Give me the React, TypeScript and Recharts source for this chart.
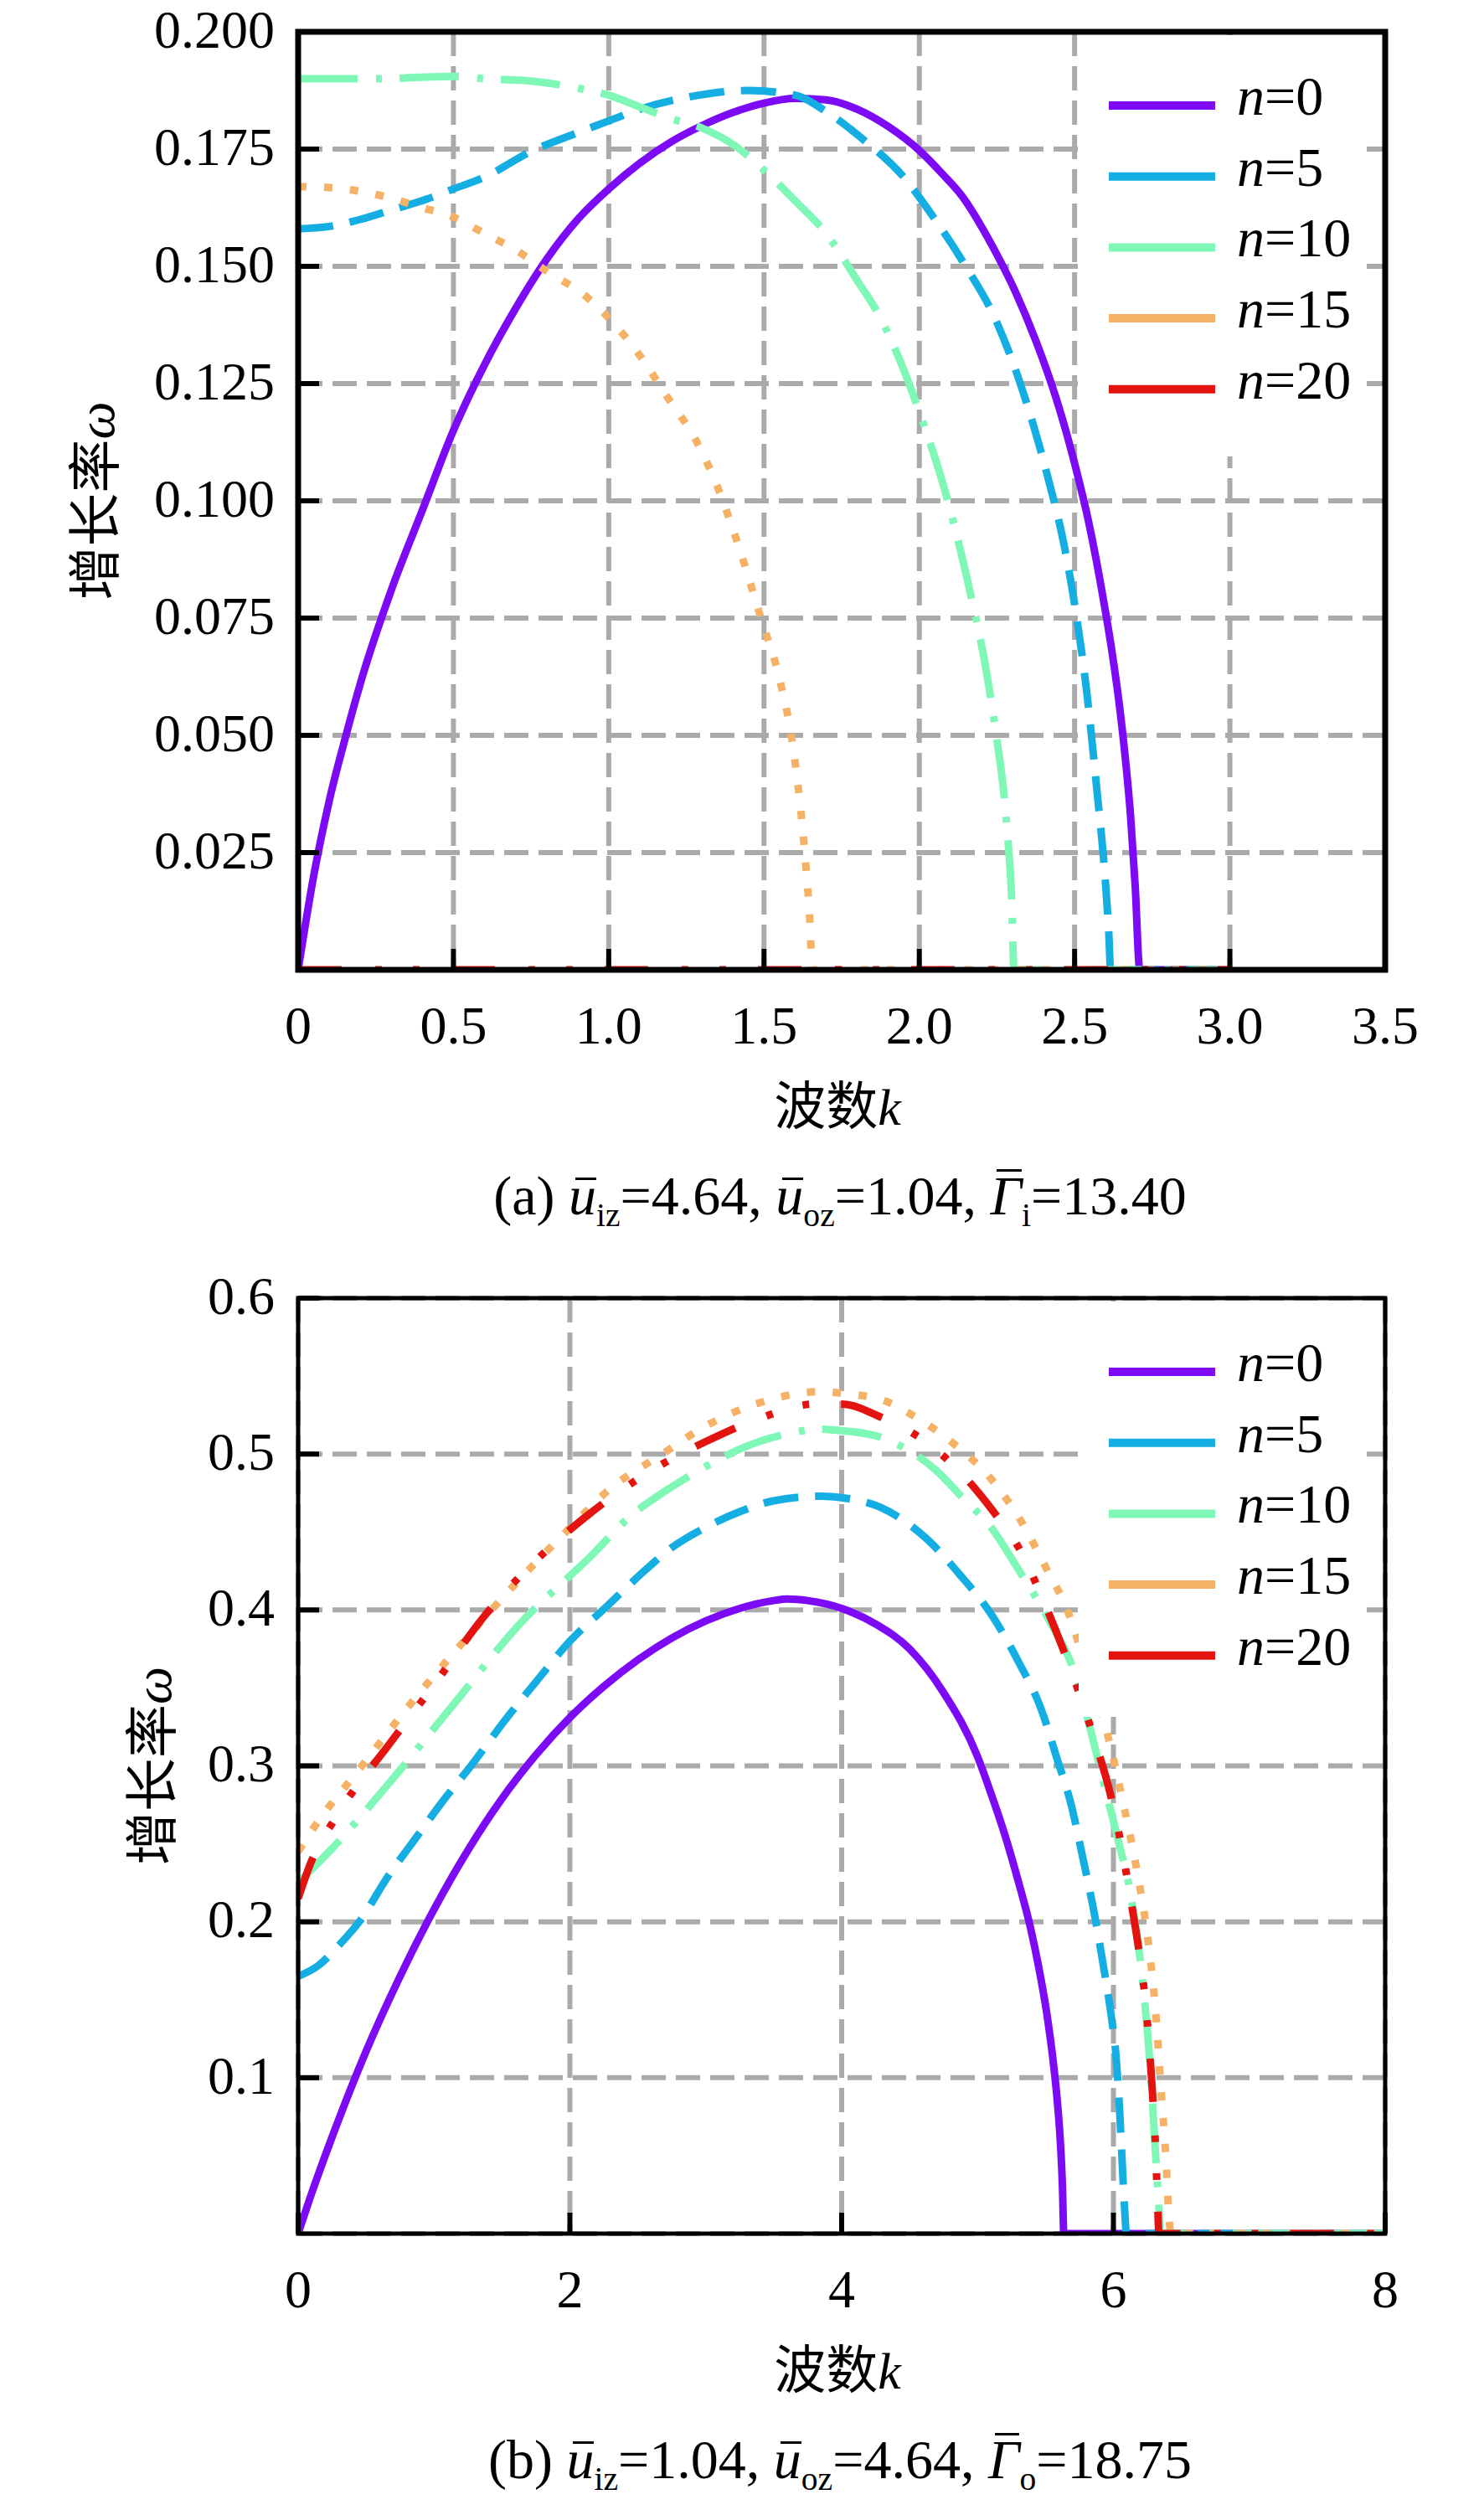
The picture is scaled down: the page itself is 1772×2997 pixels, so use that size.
import React from 'react';
import { LineChart, Line, XAxis, YAxis, CartesianGrid } from 'recharts';

const SERIF = "'Liberation Serif', 'Times New Roman', serif";
const MIXED = "'Liberation Serif', 'Noto Sans CJK SC', serif";

// legend names, colours and dash styles (n = 0, 5, 10, 15, 20)
const names = ['0', '5', '10', '15', '20'];
const colors = ['#7D0AF5', '#14AEE3', '#7FF7B7', '#F5B266', '#E3140F'];
const dashes = [undefined, '42 20', '71 22 7 21', '10 21', '52 40 8 37 8 38'];

// ---- panel (a) ----
const kA0 = [0, 0.05, 0.1, 0.15, 0.2, 0.3, 0.4, 0.5, 0.6, 0.7, 0.8, 0.9, 1.0, 1.1, 1.2, 1.3, 1.4, 1.5, 1.6, 1.7, 1.8, 1.9, 2.0, 2.07, 2.143, 2.2, 2.25, 2.31, 2.376, 2.44, 2.5, 2.55, 2.59, 2.62, 2.645, 2.665, 2.68, 2.695, 2.71, 3.0];
const wA0 = [0, 0.02, 0.036, 0.049, 0.061, 0.081, 0.098, 0.115, 0.129, 0.141, 0.1515, 0.16, 0.1665, 0.172, 0.1765, 0.18, 0.1828, 0.1848, 0.1858, 0.1855, 0.1835, 0.1798, 0.1747, 0.17, 0.1645, 0.1585, 0.1525, 0.1445, 0.134, 0.122, 0.108, 0.094, 0.08, 0.068, 0.056, 0.044, 0.033, 0.018, 0, 0];

const kA5 = [0, 0.1, 0.2, 0.3, 0.4, 0.5, 0.6, 0.75, 0.9, 1.0, 1.1, 1.25, 1.45, 1.6, 1.7, 1.82, 1.95, 2.04, 2.14, 2.25, 2.34, 2.41, 2.466, 2.5, 2.54, 2.57, 2.6, 2.61, 2.616, 3.0];
const wA5 = [0.158, 0.1585, 0.16, 0.162, 0.164, 0.1665, 0.169, 0.1745, 0.1785, 0.181, 0.1835, 0.186, 0.1875, 0.1865, 0.183, 0.177, 0.169, 0.161, 0.151, 0.138, 0.122, 0.106, 0.0906, 0.078, 0.0587, 0.0395, 0.018, 0.008, 0, 0];

const kA10 = [0, 0.25, 0.5, 0.6, 0.75, 0.9, 1.0, 1.1, 1.2, 1.3, 1.4, 1.5, 1.6, 1.7, 1.8, 1.875, 2.0, 2.1, 2.16, 2.215, 2.25, 2.27, 2.285, 2.297, 2.305, 3.0];
const wA10 = [0.19, 0.19, 0.1905, 0.19, 0.1895, 0.188, 0.1865, 0.184, 0.1815, 0.1795, 0.176, 0.1705, 0.164, 0.157, 0.147, 0.139, 0.119, 0.098, 0.0816, 0.064, 0.049, 0.039, 0.028, 0.016, 0, 0];

const kA15 = [0, 0.1, 0.2, 0.3, 0.4, 0.5, 0.6, 0.7, 0.8, 0.93, 1.0, 1.1, 1.19, 1.28, 1.35, 1.42, 1.49, 1.55, 1.59, 1.615, 1.635, 1.648, 1.655, 3.0];
const wA15 = [0.167, 0.1668, 0.166, 0.1645, 0.1625, 0.1605, 0.157, 0.1535, 0.149, 0.1434, 0.139, 0.131, 0.122, 0.113, 0.103, 0.09, 0.075, 0.062, 0.049, 0.036, 0.022, 0.01, 0, 0];

const kA20 = [0, 3.0];
const wA20 = [0, 0];

// ---- panel (b) ----
const kB0 = [0, 0.1, 0.25, 0.5, 0.75, 1.0, 1.25, 1.5, 1.75, 2.0, 2.25, 2.5, 2.75, 3.0, 3.25, 3.5, 3.6, 3.75, 4.0, 4.25, 4.5, 4.75, 5.0, 5.1, 5.2, 5.3, 5.39, 5.45, 5.51, 5.56, 5.59, 5.61, 5.625, 5.635, 8.0];
const wB0 = [0, 0.026, 0.062, 0.117, 0.165, 0.208, 0.246, 0.279, 0.307, 0.331, 0.351, 0.368, 0.382, 0.393, 0.401, 0.406, 0.407, 0.406, 0.401, 0.391, 0.375, 0.347, 0.306, 0.282, 0.256, 0.226, 0.196, 0.171, 0.141, 0.108, 0.082, 0.058, 0.03, 0, 0];

const kB5 = [0, 0.15, 0.3, 0.45, 0.66, 0.86, 1.07, 1.28, 1.52, 1.77, 2.0, 2.28, 2.56, 2.75, 3.0, 3.25, 3.5, 3.85, 4.0, 4.28, 4.626, 4.87, 5.11, 5.3, 5.47, 5.58, 5.695, 5.77, 5.86, 5.92, 5.98, 6.02, 6.045, 6.065, 6.085, 6.095, 8.0];
const wB5 = [0.165, 0.172, 0.185, 0.2, 0.229, 0.253, 0.278, 0.301, 0.329, 0.356, 0.38, 0.403, 0.426, 0.44, 0.453, 0.463, 0.47, 0.473, 0.472, 0.466, 0.4456, 0.4226, 0.396, 0.367, 0.336, 0.306, 0.273, 0.243, 0.205, 0.175, 0.142, 0.113, 0.08, 0.045, 0.012, 0, 0];

const kB10 = [0, 0.25, 0.66, 1.14, 1.62, 2.16, 2.43, 2.75, 3.0, 3.3, 3.6, 3.85, 4.0, 4.28, 4.48, 4.69, 4.89, 5.1, 5.3, 5.51, 5.72, 5.82, 5.92, 6.03, 6.13, 6.21, 6.27, 6.31, 6.335, 6.345, 8.0];
const wB10 = [0.225, 0.247, 0.288, 0.339, 0.39, 0.435, 0.459, 0.479, 0.492, 0.505, 0.513, 0.516, 0.515, 0.511, 0.503, 0.49, 0.472, 0.453, 0.426, 0.396, 0.358, 0.327, 0.292, 0.254, 0.216, 0.166, 0.108, 0.051, 0.016, 0, 0];

const kB15 = [0, 0.12, 0.47, 0.82, 1.19, 1.58, 1.97, 2.3, 2.68, 3.0, 3.4, 3.85, 4.0, 4.32, 4.5, 4.82, 5.1, 5.32, 5.51, 5.66, 5.8, 5.96, 6.08, 6.16, 6.25, 6.31, 6.35, 6.39, 6.41, 6.425, 8.0];
const wB15 = [0.245, 0.261, 0.3, 0.339, 0.377, 0.415, 0.45, 0.478, 0.5, 0.518, 0.533, 0.54, 0.539, 0.534, 0.526, 0.507, 0.484, 0.457, 0.426, 0.4, 0.363, 0.319, 0.273, 0.239, 0.191, 0.143, 0.093, 0.043, 0.009, 0, 0];

const kB20 = [0, 0.08, 0.3, 0.68, 1.0, 1.37, 1.85, 2.12, 2.5, 2.75, 3.0, 3.4, 3.8, 4.0, 4.28, 4.6, 4.82, 5.1, 5.34, 5.46, 5.62, 5.86, 5.98, 6.06, 6.13, 6.19, 6.24, 6.28, 6.31, 6.325, 6.335, 8.0];
const wB20 = [0.215, 0.235, 0.27, 0.315, 0.352, 0.396, 0.44, 0.46, 0.484, 0.497, 0.508, 0.523, 0.532, 0.532, 0.524, 0.509, 0.493, 0.465, 0.434, 0.411, 0.377, 0.317, 0.281, 0.248, 0.213, 0.18, 0.145, 0.1, 0.055, 0.02, 0, 0];

// axis ticks
const ticksXA = [0, 0.5, 1, 1.5, 2, 2.5, 3, 3.5];
const ticksYA = [0.025, 0.05, 0.075, 0.1, 0.125, 0.15, 0.175, 0.2];
const ticksXB = [0, 2, 4, 6, 8];
const ticksYB = [0.1, 0.2, 0.3, 0.4, 0.5, 0.6];

const zip = (k: number[], w: number[]) => k.map((x, i) => ({ k: x, w: w[i] }));

const seriesA = [zip(kA0, wA0), zip(kA5, wA5), zip(kA10, wA10), zip(kA15, wA15), zip(kA20, wA20)];
const seriesB = [zip(kB0, wB0), zip(kB5, wB5), zip(kB10, wB10), zip(kB15, wB15), zip(kB20, wB20)];

const Bar = ({ ch, top }: { ch: string; top: number }) => (
  <span style={{ position: 'relative', display: 'inline-block', fontStyle: 'italic' }}>
    {ch}
    <span style={{ position: 'absolute', left: '0.12em', right: 0, top, borderTop: '3px solid #000' }} />
  </span>
);

const Sub = ({ children }: { children: React.ReactNode }) => (
  <span style={{ fontSize: '0.6em', verticalAlign: '-0.35em', lineHeight: 0 }}>{children}</span>
);

const captionA = (
  <>
    (a) <Bar ch="u" top={11} /><Sub>iz</Sub>=4.64, <Bar ch="u" top={11} /><Sub>oz</Sub>=1.04, <Bar ch="Γ" top={1} /><Sub>i</Sub>=13.40
  </>
);
const captionB = (
  <>
    (b) <Bar ch="u" top={11} /><Sub>iz</Sub>=1.04, <Bar ch="u" top={11} /><Sub>oz</Sub>=4.64, <Bar ch="Γ" top={1} /><Sub>o</Sub>=18.75
  </>
);

interface PanelProps {
  top: number;
  height: number;
  mTop: number;
  mBottom: number;
  series: { k: number; w: number }[][];
  xMax: number;
  yMax: number;
  xTicks: number[];
  yTicks: number[];
  fmtX: (v: number) => string;
  fmtY: (v: number) => string;
  frame: number;
  boxBottom: number;
  yTitleX: number;
  caption: React.ReactNode;
}

function Panel(p: PanelProps) {
  const L = 356;
  const R = 1654;
  const T = p.mTop;
  const B = p.height - p.mBottom - 100;
  return (
    <div style={{ position: 'absolute', left: 0, top: p.top, width: 1772, height: p.height }}>
      <LineChart width={1772} height={p.height} margin={{ top: p.mTop, right: 1772 - R, bottom: p.mBottom, left: 56 }}>
        <CartesianGrid stroke="#AAAAAA" strokeWidth={6} strokeDasharray="29 12" />
        <XAxis
          type="number" dataKey="k" domain={[0, p.xMax]} ticks={p.xTicks} interval={0} height={100}
          axisLine={false} tickSize={-25} tickMargin={68} stroke="#000"
          tickLine={{ stroke: '#000', strokeWidth: 6 }}
          tick={{ fill: '#000', fontSize: 64, fontFamily: SERIF }}
          tickFormatter={p.fmtX} allowDataOverflow
        />
        <YAxis
          type="number" domain={[0, p.yMax]} ticks={p.yTicks} interval={0} width={300}
          axisLine={false} tickSize={-25} tickMargin={53} stroke="#000"
          tickLine={{ stroke: '#000', strokeWidth: 6 }}
          tick={{ fill: '#000', fontSize: 64, fontFamily: SERIF, dy: -4 }}
          tickFormatter={p.fmtY} allowDataOverflow
        />
        {p.series.map((d, i) => (
          <Line
            key={names[i]} data={d} dataKey="w" type="monotone" stroke={colors[i]} strokeWidth={9}
            strokeDasharray={dashes[i]} dot={false} activeDot={false} isAnimationActive={false}
          />
        ))}
      </LineChart>

      <svg width={1772} height={p.height} style={{ position: 'absolute', left: 0, top: 0, pointerEvents: 'none' }}>
        <rect x={1288} y={T + 4} width={344} height={p.boxBottom - T - 4} fill="#fff" />
        {names.map((n, i) => {
          const y = T + 88 + 84.7 * i;
          return (
            <g key={n}>
              <line x1={1324} x2={1451} y1={y} y2={y} stroke={colors[i]} strokeWidth={10} />
              <text x={1477} y={y + 11} fontSize={66} fontFamily={SERIF} fill="#000">
                <tspan fontStyle="italic">n</tspan>={n}
              </text>
            </g>
          );
        })}
        <rect x={L} y={T} width={R - L} height={B - T} fill="none" stroke="#000" strokeWidth={p.frame} />
        <text x={1000} y={B + 185} fontSize={62} fontFamily={MIXED} textAnchor="middle" fill="#000">
          波数<tspan fontStyle="italic">k</tspan>
        </text>
        <text
          transform={`translate(${p.yTitleX},${(T + B) / 2}) rotate(-90)`}
          fontSize={64} fontFamily={MIXED} textAnchor="middle" fill="#000"
        >
          增长率<tspan fontStyle="italic">ω</tspan>
        </text>
      </svg>

      <div
        style={{
          position: 'absolute', left: 403, width: 1200, top: B + 237, textAlign: 'center',
          fontFamily: SERIF, fontSize: 66, lineHeight: '66px', color: '#000', whiteSpace: 'nowrap',
        }}
      >
        {p.caption}
      </div>
    </div>
  );
}

export default function App() {
  return (
    <div style={{ position: 'absolute', left: 0, top: 0, width: 1772, height: 2997, background: '#fff' }}>
      <Panel
        top={0} height={1500} mTop={38} mBottom={242} series={seriesA}
        xMax={3.5} yMax={0.2} xTicks={ticksXA} yTicks={ticksYA}
        fmtX={(v) => (v === 0 ? '0' : v.toFixed(1))} fmtY={(v) => v.toFixed(3)}
        frame={7} boxBottom={545} yTitleX={136} caption={captionA}
      />
      <Panel
        top={1500} height={1497} mTop={50} mBottom={230} series={seriesB}
        xMax={8} yMax={0.6} xTicks={ticksXB} yTicks={ticksYB}
        fmtX={(v) => String(v)} fmtY={(v) => v.toFixed(1)}
        frame={5} boxBottom={550} yTitleX={204} caption={captionB}
      />
    </div>
  );
}
